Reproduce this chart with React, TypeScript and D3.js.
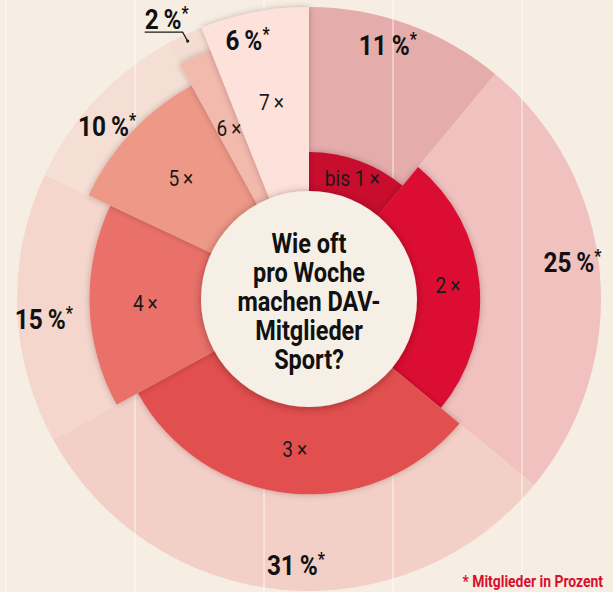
import * as d3 from 'd3';

// times per week (category) and share of members in percent
const categories = ['bis 1', '2', '3', '4', '5', '6', '7'];
const shares = [11, 25, 31, 15, 10, 2, 6];

const innerColors = ['#c8102e', '#dc0b31', '#e2504f', '#e9716a', '#ee9887', '#f2b9ad', '#fde2dc'];
const outerColors = ['#e5acac', '#f0c1bf', '#f3d0c7', '#f4d6cc', '#f5dfd5', '#f3ddd2', '#fde2dc'];

const title = ['Wie oft', 'pro Woche', 'machen DAV-', 'Mitglieder', 'Sport?'];
const footnote = '* Mitglieder in Prozent';

const W = 613;
const H = 592;
const cx = 309;
const cy = 299;
const holeR = 108;
const outerR = 292;
const FONT = "Roboto, 'DejaVu Sans Condensed', sans-serif";
const SQUEEZE = 0.87; // fake a condensed face

// text drawn squeezed horizontally around its anchor point
const Label = ({ x, y, size, bold = false, anchor = 'middle', fill = '#111', children }: any) => (
  <g transform={`translate(${x},${y}) scale(${SQUEEZE},1)`}>
    <text x={0} y={0} textAnchor={anchor} fontFamily={FONT} fontWeight={bold ? 'bold' : 'normal'}
      fontSize={size} fill={fill}>{children}</text>
  </g>
);

const App = () => {
  const slices = d3.pie<number>().sort(null).value(d => d)(shares);
  // inner wedges reach further out the more often people do sport
  const reach = d3.scaleLinear().domain([0, categories.length - 1]).range([147, outerR]);
  const arc = d3.arc<any>();

  const polar = (a: number, r: number) => [cx + r * Math.sin(a), cy - r * Math.cos(a)];
  const mid = (s: any) => (s.startAngle + s.endAngle) / 2;

  const gridX = d3.range(6, W, 129);

  return (
    <svg width={W} height={H} style={{ position: 'absolute', left: 0, top: 0, background: '#f6eee3' }}>
      <defs>
        <filter id="sh" x="-50%" y="-50%" width="200%" height="200%">
          <feDropShadow dx="0" dy="0" stdDeviation="3" floodColor="#3a1a10" floodOpacity="0.28" />
        </filter>
        <filter id="hole" x="-50%" y="-50%" width="200%" height="200%">
          <feDropShadow dx="0" dy="1" stdDeviation="4.5" floodColor="#3a1a10" floodOpacity="0.4" />
        </filter>
      </defs>
      <rect width={W} height={H} fill="#f6eee3" />

      {/* outer (percentage) wedges */}
      <g transform={`translate(${cx},${cy})`}>
        {slices.map((s, i) => (
          <path key={i} d={arc({ ...s, innerRadius: 0, outerRadius: outerR }) || ''} fill={outerColors[i]} />
        ))}
      </g>

      {gridX.map(x => (
        <line key={x} x1={x} x2={x} y1={0} y2={H} stroke="#fff" strokeOpacity={0.75} strokeWidth={1} />
      ))}

      {/* inner (frequency) wedges */}
      <g transform={`translate(${cx},${cy})`}>
        {slices.map((s, i) => (
          <path key={i} d={arc({ ...s, innerRadius: 0, outerRadius: reach(i) }) || ''}
            fill={innerColors[i]} filter="url(#sh)" />
        ))}
      </g>

      <circle cx={cx} cy={cy} r={holeR} fill="#f6efe5" filter="url(#hole)" />

      {/* frequency labels */}
      {slices.map((s, i) => {
        const [x, y] = polar(mid(s), (holeR + reach(i)) / 2);
        return (
          <Label key={i} x={x} y={y + 7} size={22} fill="#1a1a1a">{`${categories[i]}\u2009×`}</Label>
        );
      })}

      {/* percentage labels */}
      {slices.map((s, i) => {
        if (shares[i] < 5) {
          const [ex, ey] = polar(mid(s), 285);
          const bx = ex - 5;
          const by = ey - 9;
          return (
            <g key={i}>
              <polyline points={`${bx - 38},${by} ${bx},${by} ${ex},${ey}`} fill="none" stroke="#1a1a1a" strokeWidth={1.2} />
              <circle cx={ex} cy={ey} r={1.6} fill="#1a1a1a" />
              <Label x={bx - 38} y={by - 3} size={28} bold anchor="start">
                {`${shares[i]}\u2009%`}
                <tspan fontSize={18} dy={-10}>*</tspan>
              </Label>
            </g>
          );
        }
        // labels sit a little counter-clockwise of the wedge middle
        const [x, y] = polar(mid(s) - 0.045, 266);
        return (
          <Label key={i} x={x} y={y + 10} size={28} bold>
            {`${shares[i]}\u2009%`}
            <tspan fontSize={18} dy={-10}>*</tspan>
          </Label>
        );
      })}

      {/* question in the hole */}
      {title.map((t, i) => (
        <Label key={i} x={cx} y={253 + i * 29} size={27} bold>{t}</Label>
      ))}

      <Label x={603} y={587} size={16} bold anchor="end" fill="#d7102e">{footnote}</Label>
    </svg>
  );
};

export default App;
